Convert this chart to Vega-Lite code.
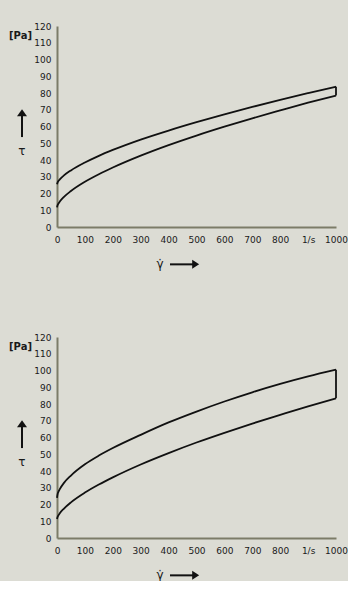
{
  "$schema": "https://vega.github.io/schema/vega-lite/v6.json",
  "background": "#dcdcd4",
  "padding": {"left": 9, "top": 22, "right": 0, "bottom": 0},
  "config": {
    "view": {"stroke": null},
    "font": "DejaVu Sans",
    "axis": {"domainColor": "#7c7c68", "domainWidth": 2, "ticks": false, "tickSize": 0, "grid": false, "labelFont": "DejaVu Sans", "labelFontSize": 9, "labelColor": "#1a1a1a", "labelFlush": false, "labelOverlap": false}
  },
  "datasets": {
    "curves": [
      {"panel": 1, "curve": "a", "rate": 0, "tau": 25.5},
      {"panel": 1, "curve": "a", "rate": 2, "tau": 26.5},
      {"panel": 1, "curve": "a", "rate": 5, "tau": 27.4},
      {"panel": 1, "curve": "a", "rate": 10, "tau": 28.4},
      {"panel": 1, "curve": "a", "rate": 25, "tau": 30.8},
      {"panel": 1, "curve": "a", "rate": 50, "tau": 33.8},
      {"panel": 1, "curve": "a", "rate": 100, "tau": 38.5},
      {"panel": 1, "curve": "a", "rate": 150, "tau": 42.5},
      {"panel": 1, "curve": "a", "rate": 200, "tau": 46.0},
      {"panel": 1, "curve": "a", "rate": 300, "tau": 52.2},
      {"panel": 1, "curve": "a", "rate": 400, "tau": 57.6},
      {"panel": 1, "curve": "a", "rate": 500, "tau": 62.6},
      {"panel": 1, "curve": "a", "rate": 600, "tau": 67.3},
      {"panel": 1, "curve": "a", "rate": 700, "tau": 71.7},
      {"panel": 1, "curve": "a", "rate": 800, "tau": 75.9},
      {"panel": 1, "curve": "a", "rate": 900, "tau": 79.9},
      {"panel": 1, "curve": "a", "rate": 1000, "tau": 83.8},
      {"panel": 1, "curve": "b", "rate": 0, "tau": 11.7},
      {"panel": 1, "curve": "b", "rate": 2, "tau": 12.95},
      {"panel": 1, "curve": "b", "rate": 5, "tau": 13.95},
      {"panel": 1, "curve": "b", "rate": 10, "tau": 15.2},
      {"panel": 1, "curve": "b", "rate": 25, "tau": 18.0},
      {"panel": 1, "curve": "b", "rate": 50, "tau": 21.5},
      {"panel": 1, "curve": "b", "rate": 100, "tau": 27.0},
      {"panel": 1, "curve": "b", "rate": 150, "tau": 31.5},
      {"panel": 1, "curve": "b", "rate": 200, "tau": 35.5},
      {"panel": 1, "curve": "b", "rate": 300, "tau": 42.6},
      {"panel": 1, "curve": "b", "rate": 400, "tau": 48.9},
      {"panel": 1, "curve": "b", "rate": 500, "tau": 54.6},
      {"panel": 1, "curve": "b", "rate": 600, "tau": 59.9},
      {"panel": 1, "curve": "b", "rate": 700, "tau": 64.9},
      {"panel": 1, "curve": "b", "rate": 800, "tau": 69.6},
      {"panel": 1, "curve": "b", "rate": 900, "tau": 74.2},
      {"panel": 1, "curve": "b", "rate": 1000, "tau": 78.5},
      {"panel": 2, "curve": "a", "rate": 0, "tau": 24.0},
      {"panel": 2, "curve": "a", "rate": 2, "tau": 26.1},
      {"panel": 2, "curve": "a", "rate": 5, "tau": 27.5},
      {"panel": 2, "curve": "a", "rate": 10, "tau": 29.2},
      {"panel": 2, "curve": "a", "rate": 25, "tau": 32.9},
      {"panel": 2, "curve": "a", "rate": 50, "tau": 37.3},
      {"panel": 2, "curve": "a", "rate": 100, "tau": 44.0},
      {"panel": 2, "curve": "a", "rate": 150, "tau": 49.2},
      {"panel": 2, "curve": "a", "rate": 200, "tau": 53.7},
      {"panel": 2, "curve": "a", "rate": 300, "tau": 61.6},
      {"panel": 2, "curve": "a", "rate": 400, "tau": 69.0},
      {"panel": 2, "curve": "a", "rate": 500, "tau": 75.5},
      {"panel": 2, "curve": "a", "rate": 600, "tau": 81.5},
      {"panel": 2, "curve": "a", "rate": 700, "tau": 87.0},
      {"panel": 2, "curve": "a", "rate": 800, "tau": 92.0},
      {"panel": 2, "curve": "a", "rate": 900, "tau": 96.5},
      {"panel": 2, "curve": "a", "rate": 1000, "tau": 100.5},
      {"panel": 2, "curve": "b", "rate": 0, "tau": 11.3},
      {"panel": 2, "curve": "b", "rate": 2, "tau": 12.5},
      {"panel": 2, "curve": "b", "rate": 5, "tau": 13.5},
      {"panel": 2, "curve": "b", "rate": 10, "tau": 14.8},
      {"panel": 2, "curve": "b", "rate": 25, "tau": 17.6},
      {"panel": 2, "curve": "b", "rate": 50, "tau": 21.3},
      {"panel": 2, "curve": "b", "rate": 100, "tau": 27.1},
      {"panel": 2, "curve": "b", "rate": 150, "tau": 31.9},
      {"panel": 2, "curve": "b", "rate": 200, "tau": 36.2},
      {"panel": 2, "curve": "b", "rate": 300, "tau": 43.9},
      {"panel": 2, "curve": "b", "rate": 400, "tau": 50.7},
      {"panel": 2, "curve": "b", "rate": 500, "tau": 57.0},
      {"panel": 2, "curve": "b", "rate": 600, "tau": 62.8},
      {"panel": 2, "curve": "b", "rate": 700, "tau": 68.3},
      {"panel": 2, "curve": "b", "rate": 800, "tau": 73.5},
      {"panel": 2, "curve": "b", "rate": 900, "tau": 78.6},
      {"panel": 2, "curve": "b", "rate": 1000, "tau": 83.4}
    ],
    "ends": [
      {"panel": 1, "rate": 1000, "tau": 78.5, "hi": 83.8},
      {"panel": 2, "rate": 1000, "tau": 83.4, "hi": 100.5}
    ],
    "unit": [{"rate": -172, "tau": 114, "label": "[Pa]"}],
    "syms": [
      {"rate": -126, "tau": 45.4, "label": "τ"},
      {"rate": 369, "tau": -22, "label": "γ̇"}
    ],
    "vshaft": [{"rate": -125.4, "tau": 53.7, "tau2": 67}],
    "hshaft": [{"rate": 405, "rate2": 490, "tau": -22.3}],
    "uphead": [{"rate": -125.4, "tau": 68.2}],
    "righthead": [{"rate": 497, "tau": -22.3}]
  },
  "spacing": 110,
  "bounds": "flush",
  "vconcat": [
    {
      "width": 279, "height": 201,
      "layer": [
        {
          "data": {"name": "curves"},
          "transform": [{"filter": "datum.panel == 1"}],
          "mark": {"type": "line", "interpolate": "monotone", "color": "#111111", "strokeWidth": 1.8},
          "encoding": {
            "x": {"field": "rate", "type": "quantitative", "title": null, "scale": {"domain": [0, 1000], "nice": false}, "axis": {"title": null, "values": [0,100,200,300,400,500,600,700,800,900,1000], "labelExpr": "datum.value == 900 ? '1/s' : format(datum.value, 'd')", "labelPadding": 8}},
            "y": {"field": "tau", "type": "quantitative", "title": null, "scale": {"domain": [0, 120], "nice": false}, "axis": {"title": null, "values": [0,10,20,30,40,50,60,70,80,90,100,110,120], "labelPadding": 6}},
            "detail": {"field": "curve"}
          }
        },
        {
          "data": {"name": "ends"},
          "transform": [{"filter": "datum.panel == 1"}],
          "mark": {"type": "rule", "color": "#111111", "strokeWidth": 1.8},
          "encoding": {
            "x": {"field": "rate", "type": "quantitative", "title": null, "scale": {"domain": [0, 1000], "nice": false}, "axis": {"title": null, "values": [0,100,200,300,400,500,600,700,800,900,1000], "labelExpr": "datum.value == 900 ? '1/s' : format(datum.value, 'd')", "labelPadding": 8}},
            "y": {"field": "tau", "type": "quantitative", "title": null, "scale": {"domain": [0, 120], "nice": false}, "axis": {"title": null, "values": [0,10,20,30,40,50,60,70,80,90,100,110,120], "labelPadding": 6}},
            "y2": {"field": "hi"}
          }
        },
        {
          "data": {"name": "unit"},
          "mark": {"type": "text", "align": "left", "baseline": "middle", "fontSize": 10, "fontWeight": "bold", "color": "#1a1a1a"},
          "encoding": {
            "x": {"field": "rate", "type": "quantitative", "title": null, "scale": {"domain": [0, 1000], "nice": false}, "axis": {"title": null, "values": [0,100,200,300,400,500,600,700,800,900,1000], "labelExpr": "datum.value == 900 ? '1/s' : format(datum.value, 'd')", "labelPadding": 8}},
            "y": {"field": "tau", "type": "quantitative", "title": null, "scale": {"domain": [0, 120], "nice": false}, "axis": {"title": null, "values": [0,10,20,30,40,50,60,70,80,90,100,110,120], "labelPadding": 6}},
            "text": {"field": "label"}
          }
        },
        {
          "data": {"name": "syms"},
          "mark": {"type": "text", "align": "center", "baseline": "middle", "fontSize": 12, "color": "#1a1a1a"},
          "encoding": {
            "x": {"field": "rate", "type": "quantitative", "title": null, "scale": {"domain": [0, 1000], "nice": false}, "axis": {"title": null, "values": [0,100,200,300,400,500,600,700,800,900,1000], "labelExpr": "datum.value == 900 ? '1/s' : format(datum.value, 'd')", "labelPadding": 8}},
            "y": {"field": "tau", "type": "quantitative", "title": null, "scale": {"domain": [0, 120], "nice": false}, "axis": {"title": null, "values": [0,10,20,30,40,50,60,70,80,90,100,110,120], "labelPadding": 6}},
            "text": {"field": "label"}
          }
        },
        {
          "data": {"name": "vshaft"},
          "mark": {"type": "rule", "color": "#111111", "strokeWidth": 2},
          "encoding": {
            "x": {"field": "rate", "type": "quantitative", "title": null, "scale": {"domain": [0, 1000], "nice": false}, "axis": {"title": null, "values": [0,100,200,300,400,500,600,700,800,900,1000], "labelExpr": "datum.value == 900 ? '1/s' : format(datum.value, 'd')", "labelPadding": 8}},
            "y": {"field": "tau", "type": "quantitative", "title": null, "scale": {"domain": [0, 120], "nice": false}, "axis": {"title": null, "values": [0,10,20,30,40,50,60,70,80,90,100,110,120], "labelPadding": 6}},
            "y2": {"field": "tau2"}
          }
        },
        {
          "data": {"name": "hshaft"},
          "mark": {"type": "rule", "color": "#111111", "strokeWidth": 2},
          "encoding": {
            "x": {"field": "rate", "type": "quantitative", "title": null, "scale": {"domain": [0, 1000], "nice": false}, "axis": {"title": null, "values": [0,100,200,300,400,500,600,700,800,900,1000], "labelExpr": "datum.value == 900 ? '1/s' : format(datum.value, 'd')", "labelPadding": 8}},
            "x2": {"field": "rate2"},
            "y": {"field": "tau", "type": "quantitative", "title": null, "scale": {"domain": [0, 120], "nice": false}, "axis": {"title": null, "values": [0,10,20,30,40,50,60,70,80,90,100,110,120], "labelPadding": 6}}
          }
        },
        {
          "data": {"name": "uphead"},
          "mark": {"type": "point", "filled": true, "opacity": 1, "color": "#111111", "size": 100, "shape": "M0,-0.7L1,0.7L-1,0.7Z"},
          "encoding": {
            "x": {"field": "rate", "type": "quantitative", "title": null, "scale": {"domain": [0, 1000], "nice": false}, "axis": {"title": null, "values": [0,100,200,300,400,500,600,700,800,900,1000], "labelExpr": "datum.value == 900 ? '1/s' : format(datum.value, 'd')", "labelPadding": 8}},
            "y": {"field": "tau", "type": "quantitative", "title": null, "scale": {"domain": [0, 120], "nice": false}, "axis": {"title": null, "values": [0,10,20,30,40,50,60,70,80,90,100,110,120], "labelPadding": 6}}
          }
        },
        {
          "data": {"name": "righthead"},
          "mark": {"type": "point", "filled": true, "opacity": 1, "color": "#111111", "size": 100, "shape": "M0.7,0L-0.7,-0.9L-0.7,0.9Z"},
          "encoding": {
            "x": {"field": "rate", "type": "quantitative", "title": null, "scale": {"domain": [0, 1000], "nice": false}, "axis": {"title": null, "values": [0,100,200,300,400,500,600,700,800,900,1000], "labelExpr": "datum.value == 900 ? '1/s' : format(datum.value, 'd')", "labelPadding": 8}},
            "y": {"field": "tau", "type": "quantitative", "title": null, "scale": {"domain": [0, 120], "nice": false}, "axis": {"title": null, "values": [0,10,20,30,40,50,60,70,80,90,100,110,120], "labelPadding": 6}}
          }
        }
      ]
    },
    {
      "width": 279, "height": 201,
      "layer": [
        {
          "data": {"name": "curves"},
          "transform": [{"filter": "datum.panel == 2"}],
          "mark": {"type": "line", "interpolate": "monotone", "color": "#111111", "strokeWidth": 1.8},
          "encoding": {
            "x": {"field": "rate", "type": "quantitative", "title": null, "scale": {"domain": [0, 1000], "nice": false}, "axis": {"title": null, "values": [0,100,200,300,400,500,600,700,800,900,1000], "labelExpr": "datum.value == 900 ? '1/s' : format(datum.value, 'd')", "labelPadding": 8}},
            "y": {"field": "tau", "type": "quantitative", "title": null, "scale": {"domain": [0, 120], "nice": false}, "axis": {"title": null, "values": [0,10,20,30,40,50,60,70,80,90,100,110,120], "labelPadding": 6}},
            "detail": {"field": "curve"}
          }
        },
        {
          "data": {"name": "ends"},
          "transform": [{"filter": "datum.panel == 2"}],
          "mark": {"type": "rule", "color": "#111111", "strokeWidth": 1.8},
          "encoding": {
            "x": {"field": "rate", "type": "quantitative", "title": null, "scale": {"domain": [0, 1000], "nice": false}, "axis": {"title": null, "values": [0,100,200,300,400,500,600,700,800,900,1000], "labelExpr": "datum.value == 900 ? '1/s' : format(datum.value, 'd')", "labelPadding": 8}},
            "y": {"field": "tau", "type": "quantitative", "title": null, "scale": {"domain": [0, 120], "nice": false}, "axis": {"title": null, "values": [0,10,20,30,40,50,60,70,80,90,100,110,120], "labelPadding": 6}},
            "y2": {"field": "hi"}
          }
        },
        {
          "data": {"name": "unit"},
          "mark": {"type": "text", "align": "left", "baseline": "middle", "fontSize": 10, "fontWeight": "bold", "color": "#1a1a1a"},
          "encoding": {
            "x": {"field": "rate", "type": "quantitative", "title": null, "scale": {"domain": [0, 1000], "nice": false}, "axis": {"title": null, "values": [0,100,200,300,400,500,600,700,800,900,1000], "labelExpr": "datum.value == 900 ? '1/s' : format(datum.value, 'd')", "labelPadding": 8}},
            "y": {"field": "tau", "type": "quantitative", "title": null, "scale": {"domain": [0, 120], "nice": false}, "axis": {"title": null, "values": [0,10,20,30,40,50,60,70,80,90,100,110,120], "labelPadding": 6}},
            "text": {"field": "label"}
          }
        },
        {
          "data": {"name": "syms"},
          "mark": {"type": "text", "align": "center", "baseline": "middle", "fontSize": 12, "color": "#1a1a1a"},
          "encoding": {
            "x": {"field": "rate", "type": "quantitative", "title": null, "scale": {"domain": [0, 1000], "nice": false}, "axis": {"title": null, "values": [0,100,200,300,400,500,600,700,800,900,1000], "labelExpr": "datum.value == 900 ? '1/s' : format(datum.value, 'd')", "labelPadding": 8}},
            "y": {"field": "tau", "type": "quantitative", "title": null, "scale": {"domain": [0, 120], "nice": false}, "axis": {"title": null, "values": [0,10,20,30,40,50,60,70,80,90,100,110,120], "labelPadding": 6}},
            "text": {"field": "label"}
          }
        },
        {
          "data": {"name": "vshaft"},
          "mark": {"type": "rule", "color": "#111111", "strokeWidth": 2},
          "encoding": {
            "x": {"field": "rate", "type": "quantitative", "title": null, "scale": {"domain": [0, 1000], "nice": false}, "axis": {"title": null, "values": [0,100,200,300,400,500,600,700,800,900,1000], "labelExpr": "datum.value == 900 ? '1/s' : format(datum.value, 'd')", "labelPadding": 8}},
            "y": {"field": "tau", "type": "quantitative", "title": null, "scale": {"domain": [0, 120], "nice": false}, "axis": {"title": null, "values": [0,10,20,30,40,50,60,70,80,90,100,110,120], "labelPadding": 6}},
            "y2": {"field": "tau2"}
          }
        },
        {
          "data": {"name": "hshaft"},
          "mark": {"type": "rule", "color": "#111111", "strokeWidth": 2},
          "encoding": {
            "x": {"field": "rate", "type": "quantitative", "title": null, "scale": {"domain": [0, 1000], "nice": false}, "axis": {"title": null, "values": [0,100,200,300,400,500,600,700,800,900,1000], "labelExpr": "datum.value == 900 ? '1/s' : format(datum.value, 'd')", "labelPadding": 8}},
            "x2": {"field": "rate2"},
            "y": {"field": "tau", "type": "quantitative", "title": null, "scale": {"domain": [0, 120], "nice": false}, "axis": {"title": null, "values": [0,10,20,30,40,50,60,70,80,90,100,110,120], "labelPadding": 6}}
          }
        },
        {
          "data": {"name": "uphead"},
          "mark": {"type": "point", "filled": true, "opacity": 1, "color": "#111111", "size": 100, "shape": "M0,-0.7L1,0.7L-1,0.7Z"},
          "encoding": {
            "x": {"field": "rate", "type": "quantitative", "title": null, "scale": {"domain": [0, 1000], "nice": false}, "axis": {"title": null, "values": [0,100,200,300,400,500,600,700,800,900,1000], "labelExpr": "datum.value == 900 ? '1/s' : format(datum.value, 'd')", "labelPadding": 8}},
            "y": {"field": "tau", "type": "quantitative", "title": null, "scale": {"domain": [0, 120], "nice": false}, "axis": {"title": null, "values": [0,10,20,30,40,50,60,70,80,90,100,110,120], "labelPadding": 6}}
          }
        },
        {
          "data": {"name": "righthead"},
          "mark": {"type": "point", "filled": true, "opacity": 1, "color": "#111111", "size": 100, "shape": "M0.7,0L-0.7,-0.9L-0.7,0.9Z"},
          "encoding": {
            "x": {"field": "rate", "type": "quantitative", "title": null, "scale": {"domain": [0, 1000], "nice": false}, "axis": {"title": null, "values": [0,100,200,300,400,500,600,700,800,900,1000], "labelExpr": "datum.value == 900 ? '1/s' : format(datum.value, 'd')", "labelPadding": 8}},
            "y": {"field": "tau", "type": "quantitative", "title": null, "scale": {"domain": [0, 120], "nice": false}, "axis": {"title": null, "values": [0,10,20,30,40,50,60,70,80,90,100,110,120], "labelPadding": 6}}
          }
        }
      ]
    }
  ]
}
